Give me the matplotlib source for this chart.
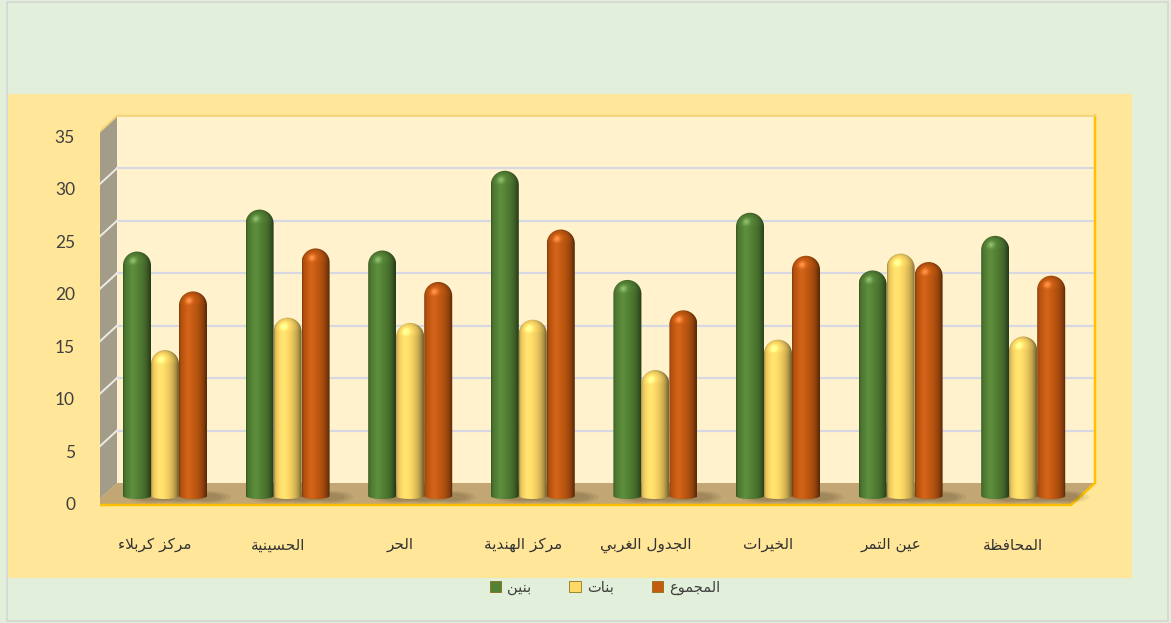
import numpy as np
import matplotlib.pyplot as plt
from matplotlib.patches import Polygon, Rectangle, PathPatch, Patch, Ellipse
from matplotlib.path import Path

categories = ['مركز كربلاء', 'الحسينية', 'الحر', 'مركز الهندية',
              'الجدول الغربي', 'الخيرات', 'عين التمر', 'المحافظة']
boys = [23.3, 27.3, 23.4, 31.0, 20.6, 27.0, 21.5, 24.8]
girls = [13.9, 17.0, 16.5, 16.8, 12.0, 14.9, 23.1, 15.2]
total = [19.5, 23.6, 20.4, 25.4, 17.7, 22.9, 22.3, 21.0]
series_names = ['بنين', 'بنات', 'المجموع']
yticks = [0, 5, 10, 15, 20, 25, 30, 35]

colors = ['#548235', '#FFD966', '#C55A11']

# matplotlib has no arabic shaping, so map letters to presentation forms
FORMS = {
    'ء': ('\uFE80',),
    'ا': ('\uFE8D', '\uFE8E'),
    'ب': ('\uFE8F', '\uFE90', '\uFE91', '\uFE92'),
    'ة': ('\uFE93', '\uFE94'),
    'ت': ('\uFE95', '\uFE96', '\uFE97', '\uFE98'),
    'ج': ('\uFE9D', '\uFE9E', '\uFE9F', '\uFEA0'),
    'ح': ('\uFEA1', '\uFEA2', '\uFEA3', '\uFEA4'),
    'خ': ('\uFEA5', '\uFEA6', '\uFEA7', '\uFEA8'),
    'د': ('\uFEA9', '\uFEAA'),
    'ر': ('\uFEAD', '\uFEAE'),
    'ز': ('\uFEAF', '\uFEB0'),
    'س': ('\uFEB1', '\uFEB2', '\uFEB3', '\uFEB4'),
    'ظ': ('\uFEC5', '\uFEC6', '\uFEC7', '\uFEC8'),
    'ع': ('\uFEC9', '\uFECA', '\uFECB', '\uFECC'),
    'غ': ('\uFECD', '\uFECE', '\uFECF', '\uFED0'),
    'ف': ('\uFED1', '\uFED2', '\uFED3', '\uFED4'),
    'ك': ('\uFED9', '\uFEDA', '\uFEDB', '\uFEDC'),
    'ل': ('\uFEDD', '\uFEDE', '\uFEDF', '\uFEE0'),
    'م': ('\uFEE1', '\uFEE2', '\uFEE3', '\uFEE4'),
    'ن': ('\uFEE5', '\uFEE6', '\uFEE7', '\uFEE8'),
    'ه': ('\uFEE9', '\uFEEA', '\uFEEB', '\uFEEC'),
    'و': ('\uFEED', '\uFEEE'),
    'ي': ('\uFEF1', '\uFEF2', '\uFEF3', '\uFEF4'),
}


def shape(text):
    out = []
    n = len(text)
    i = 0
    while i < n:
        c = text[i]
        if c not in FORMS:
            out.append(c)
            i += 1
            continue
        prev = text[i - 1] if i > 0 else None
        joins_prev = prev in FORMS and len(FORMS[prev]) == 4 and len(FORMS[c]) > 1
        if c == 'ل' and i + 1 < n and text[i + 1] == 'ا':
            out.append('\uFEFC' if joins_prev else '\uFEFB')
            i += 2
            continue
        nxt = text[i + 1] if i + 1 < n else None
        joins_next = len(FORMS[c]) == 4 and nxt in FORMS and len(FORMS[nxt]) > 1
        f = FORMS[c]
        if joins_prev and joins_next:
            out.append(f[3])
        elif joins_prev:
            out.append(f[1])
        elif joins_next:
            out.append(f[2])
        else:
            out.append(f[0])
        i += 1
    return ''.join(reversed(out))


def cylinder_image(rgb, h, cap, rb, nx=40, ny=220):
    u = np.linspace(-1, 1, nx)
    y = np.linspace(-rb, h, ny)
    U, Y = np.meshgrid(u, y)
    s = np.clip((Y - (h - cap)) / cap, 0, 1)
    nz = np.sqrt(np.clip(1 - U ** 2 - s ** 2, 0, 1))
    light = np.array([-0.3, 0.35, 0.89])
    light = light / np.linalg.norm(light)
    diff = np.clip(U * light[0] + s * light[1] + nz * light[2], 0, 1)
    spec = diff ** 30
    shade = 0.48 + 0.58 * diff
    img = np.array(rgb)[None, None, :] * shade[..., None] + 0.22 * spec[..., None]
    return np.clip(img, 0, 1)


W, H = 1171, 623
XPX, YPX = 122.6, 10.49
X0PX, Y0PX = 165, 496

fig = plt.figure(figsize=(W / 100, H / 100), dpi=100)
fig.patch.set_facecolor('#E2EFDA')
fig.patches.append(Rectangle((7 / W, 2 / H), 1161 / W, 619 / H, transform=fig.transFigure,
                             facecolor='none', edgecolor='#D5D5D5', lw=1.2, zorder=-2))
fig.patches.append(Rectangle((8 / W, 1 - 578 / H), 1124 / W, 484 / H, transform=fig.transFigure,
                             facecolor='#FFE699', edgecolor='none', zorder=-1))

left, right, top, bottom = 100, 1110, 100, 530
ax = fig.add_axes([left / W, 1 - bottom / H, (right - left) / W, (bottom - top) / H])
ax.set_facecolor('none')
ax.axis('off')

xl = (103 - X0PX) / XPX
xr = (1081 - X0PX) / XPX
dxf, dyf = -10 / XPX, -9 / YPX
dxb, dyb = 14 / XPX, 13 / YPX
ymax = 35

# back wall
ax.add_patch(Polygon([(xl + dxb, dyb), (xr + dxb, dyb), (xr + dxb, ymax + dyb), (xl + dxb, ymax + dyb)],
                     closed=True, facecolor='#FFF2CC', edgecolor='none', zorder=1))
# side wall
ax.add_patch(Polygon([(xl + dxf, dyf), (xl + dxb, dyb), (xl + dxb, ymax + dyb), (xl + dxf, ymax + dyf)],
                     closed=True, facecolor='#A39C88', edgecolor='none', zorder=1))
# floor
ax.add_patch(Polygon([(xl + dxf, dyf), (xr + dxf, dyf), (xr + dxb, dyb), (xl + dxb, dyb)],
                     closed=True, facecolor='#C2A673', edgecolor='none', zorder=1))

for v in yticks[1:-1]:
    ax.plot([xl + dxb, xr + dxb], [v + dyb, v + dyb], color='#D8D8E2', lw=1.6, zorder=1.5)
    ax.plot([xl + dxf, xl + dxb], [v + dyf, v + dyb], color='#EDEBE6', lw=1.4, zorder=1.5)

gold = '#FFC000'
ax.plot([xl + dxf, xl + dxf], [ymax + dyf, dyf], color=gold, lw=1.8, zorder=1.6)
ax.plot([xl + dxf, xr + dxf, xr + dxb, xr + dxb], [dyf, dyf, dyb, ymax + dyb],
        color=gold, lw=1.8, zorder=1.6)
ax.plot([xl + dxf, xl + dxb, xr + dxb], [ymax + dyf, ymax + dyb, ymax + dyb],
        color='#F2D27A', lw=1.4, zorder=1.6)

x = np.arange(len(categories))
width = 28 / XPX
cap = 14 / YPX
rb = 3 / YPX
for k, (vals, col) in enumerate(zip([boys, girls, total], colors)):
    bars = ax.bar(x + (k - 1) * width, vals, width, color='none', edgecolor='none', zorder=2)
    rgb = [int(col[i:i + 2], 16) / 255 for i in (1, 3, 5)]
    for b in bars:
        x0, w, h = b.get_x(), b.get_width(), b.get_height()
        xc = x0 + w / 2
        th = np.linspace(np.pi, 0, 40)
        top_pts = np.column_stack([xc + w / 2 * np.cos(th), h - cap + cap * np.sin(th)])
        th2 = np.linspace(0, np.pi, 30)
        bot_pts = np.column_stack([xc + w / 2 * np.cos(th2), -rb * np.sin(th2)])
        pts = np.vstack([[x0, h - cap], top_pts, bot_pts])
        patch = PathPatch(Path(pts), facecolor='none', edgecolor='none')
        ax.add_patch(patch)
        # soft shadow on the floor
        for sc, a in [(1.0, 0.08), (0.75, 0.1), (0.5, 0.12)]:
            ax.add_patch(Ellipse((x0 + w * 1.0, -0.1), w * 1.3 * sc + w * 0.4, 0.9 * sc + 0.3,
                                 facecolor='#4a3c24', alpha=a, edgecolor='none', zorder=1.7))
        im = ax.imshow(cylinder_image(rgb, h, cap, rb), extent=(x0, x0 + w, -rb, h),
                       origin='lower', aspect='auto', interpolation='bilinear', zorder=3 + k * 0.01)
        im.set_clip_path(patch)

for v in yticks:
    ax.text(xl + dxf - 18 / XPX, v + dyf, str(v), ha='right', va='center',
            fontsize=12.5, family='Lato', color='#404040')

for i, name in enumerate(categories):
    ax.text(i + dxf, (Y0PX - 545) / YPX, shape(name), ha='center', va='center',
            fontsize=11, family='DejaVu Sans', color='#333333')

ax.set_xlim((left - X0PX) / XPX, (right - X0PX) / XPX)
ax.set_ylim((Y0PX - bottom) / YPX, (Y0PX - top) / YPX)

handles = [Patch(facecolor=c, edgecolor='#7f6000', lw=0.5) for c in colors]
fig.legend(handles, [shape(s) for s in series_names], loc='center',
           bbox_to_anchor=(605 / W, 1 - 587 / H), ncol=3, frameon=False,
           handlelength=0.8, handleheight=0.8, handletextpad=0.4,
           columnspacing=2.6, prop={'family': 'DejaVu Sans', 'size': 10.5})
for t in fig.legends[0].get_texts():
    t.set_color('#404040')

fig.savefig('out.png', dpi=100, facecolor=fig.get_facecolor())
